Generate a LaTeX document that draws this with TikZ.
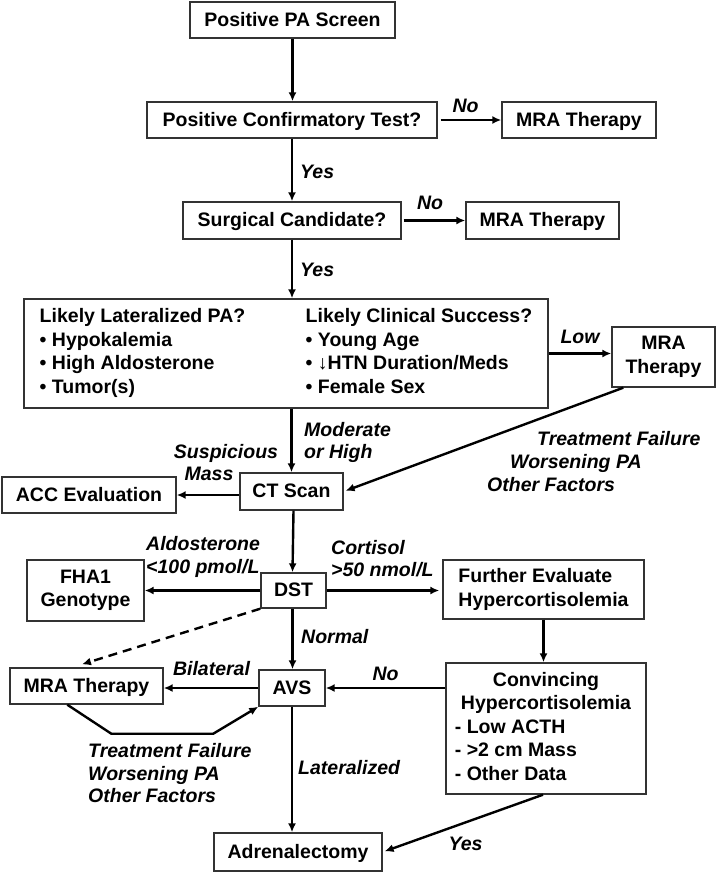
\documentclass[tikz,border=0pt]{standalone}
\usepackage{fontspec}
\setmainfont{Liberation Sans}
\usetikzlibrary{arrows.meta}
\begin{document}
\begin{tikzpicture}[x=1pt,y=-1pt,
  every node/.style={font=\fontsize{19.5}{23.5}\selectfont\bfseries},
  box/.style={draw=black!80, line width=1.4pt, inner sep=0pt, align=center},
  one/.style={text height=14pt, text depth=2pt},
  lab/.style={font=\fontsize{19.5}{22.5}\selectfont\bfseries\itshape, inner sep=0pt},
  arr/.style={line width=2.4pt, -{Latex[length=9pt,width=8pt]}},
]
\useasboundingbox (0,0) rectangle (717,873);

% boxes
\node[box,one,minimum width=205,minimum height=36] (pa) at (292.5,20) {Positive PA Screen};
\node[box,one,minimum width=290,minimum height=36] (conf) at (292,120) {Positive Confirmatory Test?};
\node[box,one,minimum width=154,minimum height=36] (mra1) at (579,120) {MRA Therapy};
\node[box,one,minimum width=218,minimum height=37] (surg) at (292,220.5) {Surgical Candidate?};
\node[box,one,minimum width=153,minimum height=37] (mra2) at (542.5,220.5) {MRA Therapy};
\node[box,minimum width=524,minimum height=109] (big) at (286,353.5) {\begin{tabular}{@{}p{266pt}@{}l@{}}
Likely Lateralized PA? & Likely Clinical Success?\\
\textbullet\ Hypokalemia & \textbullet\ Young Age\\
\textbullet\ High Aldosterone & \textbullet\ ↓HTN Duration/Meds\\
\textbullet\ Tumor(s) & \textbullet\ Female Sex
\end{tabular}};
\node[box,minimum width=103,minimum height=60] (mra3) at (663.5,357) {MRA\\Therapy};
\node[box,one,minimum width=103,minimum height=37] (ct) at (291.5,491.5) {CT Scan};
\node[box,one,minimum width=174,minimum height=36] (acc) at (89,495) {ACC Evaluation};
\node[box,one,minimum width=65,minimum height=35] (dst) at (293.5,590.5) {DST};
\node[box,minimum width=117,minimum height=61] (fha) at (85.5,590.5) {FHA1\\Genotype};
\node[box,align=left,minimum width=201,minimum height=59] (further) at (543.5,589.5) {Further Evaluate\\Hypercortisolemia};
\node[box,minimum width=200,minimum height=131] (conv) at (546,728.5) {\begin{tabular}{@{}l@{}}
\multicolumn{1}{c}{Convincing}\\
\multicolumn{1}{c}{Hypercortisolemia}\\
- Low ACTH\\
- >2 cm Mass\\
- Other Data
\end{tabular}};
\node[box,one,minimum width=66,minimum height=36] (avs) at (292,688) {AVS};
\node[box,one,minimum width=153,minimum height=36] (mra4) at (86.5,686) {MRA Therapy};
\node[box,one,minimum width=168,minimum height=38] (adr) at (298,852) {Adrenalectomy};

% labels
\node[lab,one] (l1) at (465.5,106) {No};
\node[lab,one,anchor=west] (l2) at (300,172) {Yes};
\node[lab,one] (l3) at (430,203) {No};
\node[lab,one,anchor=west] (l4) at (300,270) {Yes};
\node[lab,one] (l5) at (580,337) {Low};
\node[lab,anchor=west,align=left] (l6) at (304,442.5) {Moderate\\or High};
\node[lab,one] (l7) at (226,452) {Suspicious};
\node[lab,one] (l8) at (209,474) {Mass};
\node[lab,one,anchor=west] (l9) at (537,439) {Treatment Failure};
\node[lab,one,anchor=west] (l10) at (510,462) {Worsening PA};
\node[lab,one,anchor=west] (l11) at (487,485) {Other Factors};
\node[lab,anchor=west,align=left] (l12) at (146,557) {Aldosterone\\<100 pmol/L};
\node[lab,anchor=west,align=left] (l13) at (331,558.5) {Cortisol\\>50 nmol/L};
\node[lab,one,anchor=west] (l14) at (301,637) {Normal};
\node[lab,one] (l15) at (385.5,674) {No};
\node[lab,one] (l16) at (211.5,669) {Bilateral};
\node[lab,anchor=west,align=left] (l17) at (88,773.5) {Treatment Failure\\Worsening PA\\Other Factors};
\node[lab,one,anchor=west] (l18) at (298,768) {Lateralized};
\node[lab,one] (l19) at (465.5,844) {Yes};

% connectors
\draw[arr] (pa.south) -- (pa.south |- conf.north);
\draw[arr,shorten <=3pt] (conf.east) -- (mra1.west);
\draw[arr] (conf.south) -- (conf.south |- surg.north);
\draw[arr,shorten <=2pt] (surg.east) -- (mra2.west);
\draw[arr] (surg.south) -- (surg.south |- big.north);
\draw[arr] (big.east) -- (big.east -| mra3.west);
\draw[arr,shorten >=2pt] ([xshift=12pt]mra3.south west) -- (ct.east);
\draw[arr] (big.south -| ct.north) -- (ct.north);
\draw[arr] (ct.west |- acc.east) -- (acc.east);
\draw[arr] (ct.south -| dst.north) -- ([xshift=-1pt]dst.north);
\draw[arr] (dst.west) -- (dst.west -| fha.east);
\draw[arr,shorten >=3pt] (dst.east) -- (dst.east -| further.west);
\draw[arr] (further.south) -- (further.south |- conv.north);
\draw[arr] (avs.east -| conv.west) -- (avs.east);
\draw[arr] ([xshift=-1pt]dst.south) -- ([xshift=-1pt]dst.south |- avs.north);
\draw[arr,dash pattern=on 9pt off 6pt] (dst.south west) -- ([xshift=-4.5pt,yshift=3pt]mra4.north);
\draw[arr] (avs.west) -- (avs.west -| mra4.east);
\draw[arr] ([xshift=58pt]mra4.south west) -- ++(44,29) -- ++(102,0) -- (avs.south west);
\draw[arr] (avs.south) -- (avs.south |- adr.north);
\draw[arr,shorten >=2pt] ([xshift=-3pt]conv.south) -- (adr.east);
\end{tikzpicture}
\end{document}
